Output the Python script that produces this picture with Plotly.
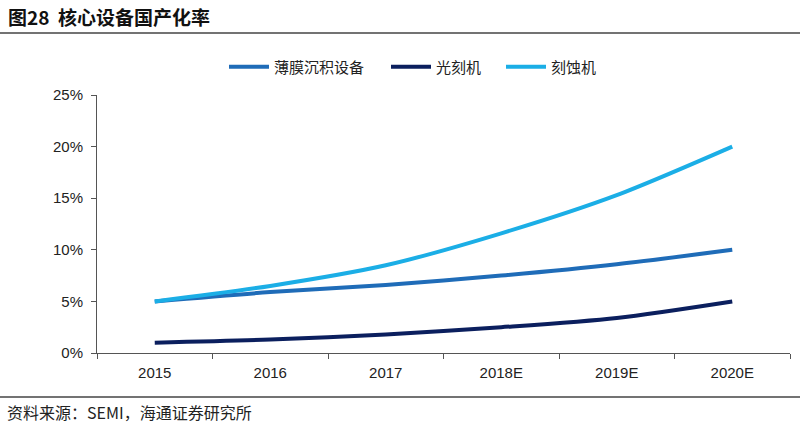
import plotly.graph_objects as go

categories = ["2015", "2016", "2017", "2018E", "2019E", "2020E"]
film = [5.0, 5.9, 6.6, 7.5, 8.6, 10.0]
litho = [1.0, 1.3, 1.8, 2.5, 3.4, 5.0]
etch = [5.0, 6.5, 8.5, 11.6, 15.3, 20.0]
series_names = ["薄膜沉积设备", "光刻机", "刻蚀机"]
colors = ["#1F6CB8", "#0B1F5E", "#1BAEE6"]
y_ticks = [0, 5, 10, 15, 20, 25]

W, H = 800, 426
L, R, T, B = 97, 10, 95, 73
pw = W - L - R
ph = H - T - B

def px_x(px):
    return (px - L) / pw

def px_y(py):
    return (H - B - py) / ph

cjk = "Noto Sans CJK SC"
legend_ids = ["legend", "legend2", "legend3"]
legend_px = [224, 386, 501]

fig = go.Figure()
for name, vals, c, lg in zip(series_names, [film, litho, etch], colors, legend_ids):
    fig.add_trace(go.Scatter(
        x=categories, y=vals, name=name, mode="lines", legend=lg,
        line=dict(color=c, width=4, shape="spline", smoothing=0.8),
    ))

legend_common = dict(orientation="h", yanchor="middle", y=px_y(67), xanchor="left",
                     font=dict(family=cjk, size=15, color="#222"), itemwidth=40,
                     bgcolor="rgba(0,0,0,0)")
layout_legends = {lg: dict(x=px_x(xp), **legend_common) for lg, xp in zip(legend_ids, legend_px)}

fig.update_layout(
    width=W, height=H,
    margin=dict(l=L, r=R, t=T, b=B),
    paper_bgcolor="white", plot_bgcolor="white",
    showlegend=True,
    xaxis=dict(type="category", range=[-0.5, 5.5], showgrid=False,
               showline=True, linecolor="#555", linewidth=1,
               ticks="outside", tickson="boundaries", ticklen=5, tickcolor="#555",
               ticklabelstandoff=6,
               tickfont=dict(family="Liberation Sans, Arial", size=15, color="#222")),
    yaxis=dict(range=[0, 25], tickvals=y_ticks, ticktext=[f"{v}%" for v in y_ticks],
               showgrid=False, zeroline=False, showline=True, linecolor="#555", linewidth=1,
               ticks="outside", ticklen=5, tickcolor="#555", ticklabelstandoff=5,
               tickfont=dict(family="Liberation Sans, Arial", size=15, color="#222")),
    shapes=[
        dict(type="line", xref="paper", yref="paper", x0=px_x(0), x1=px_x(W),
             y0=px_y(33), y1=px_y(33), line=dict(color="#444", width=1.5)),
        dict(type="line", xref="paper", yref="paper", x0=px_x(0), x1=px_x(W),
             y0=px_y(397), y1=px_y(397), line=dict(color="#444", width=1.5)),
    ],
    annotations=[
        dict(text="<b>图28&nbsp;&nbsp;核心设备国产化率</b>", xref="paper", yref="paper",
             x=px_x(6), y=px_y(17), xanchor="left", yanchor="middle", showarrow=False,
             font=dict(family=cjk, size=19, color="#111")),
        dict(text="资料来源：SEMI，海通证券研究所", xref="paper", yref="paper",
             x=px_x(5), y=px_y(412), xanchor="left", yanchor="middle", showarrow=False,
             font=dict(family=cjk, size=16, color="#222")),
    ],
    **layout_legends,
)

fig.write_html("out.html", config={"displayModeBar": False},
               post_script="document.body.style.margin='0';")
